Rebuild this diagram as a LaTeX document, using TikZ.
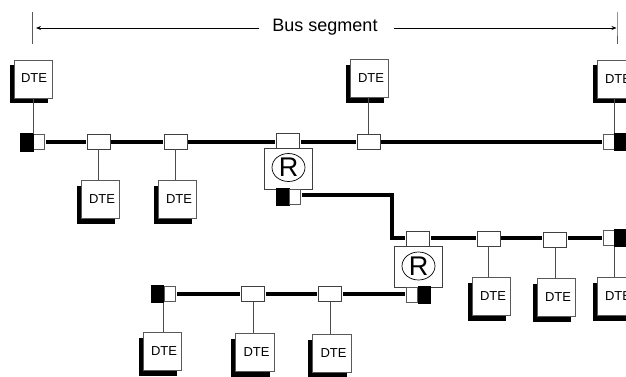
\documentclass[tikz,border=0pt]{standalone}
\usepackage{fontspec}
\setmainfont{Liberation Sans}
\usetikzlibrary{shadows,arrows.meta,shapes.geometric}
\tikzset{
  x=1pt,y=1pt,
  dtebox/.style={draw=black!65,line width=0.9pt,fill=white,minimum width=38.5pt,minimum height=38pt,inner sep=0pt,
     font=\fontsize{13}{13}\selectfont,execute at begin node=\hspace{3pt},general shadow={fill=black,shadow xshift=-4.5pt,shadow yshift=-5.5pt}},
  tapbox/.style={draw=black!75,line width=0.9pt,fill=white,minimum width=23pt,minimum height=15pt,inner sep=0pt},
  termw/.style={draw=black!65,line width=0.9pt,fill=white,minimum width=11.5pt,minimum height=15pt,inner sep=0pt},
  termb/.style={draw=black,fill=black,line width=0pt,minimum width=12.5pt,minimum height=17pt,inner sep=0pt},
  repbox/.style={draw=black!75,line width=0.9pt,fill=white,minimum width=48pt,minimum height=41pt,inner sep=0pt},
  rcircle/.style={draw=black,line width=0.7pt,ellipse,minimum width=33pt,minimum height=28pt,inner sep=0pt,font=\fontsize{27}{27}\selectfont},
  busline/.style={line width=4pt,black,shorten <=1pt,shorten >=1pt},
  drop/.style={line width=0.9pt,black!70},
  dim/.style={line width=0.8pt,black,-{Stealth[length=5pt,width=4pt]}},
  bar/.style={line width=0.9pt,black!65},
  lbl/.style={font=\fontsize{18}{18}\selectfont,inner sep=0pt}
}
\begin{document}
\begin{tikzpicture}
\clip (0,0) rectangle (626,-377);
\fill[white] (0,0) rectangle (626,-377);
% dimension
\node[lbl] (label) at (325,-27) {Bus segment};
\coordinate (bl) at (32.5,-28);
\coordinate (br) at (617,-28);
\draw[bar] (32.5,-12) -- (bl) -- (32.5,-44);
\draw[bar] (617,-12) -- (br) -- (617,-44);
\draw[dim,shorten <=13pt,shorten >=3.5pt] (label.west |- bl) -- (bl);
\draw[dim,shorten <=16pt,shorten >=0.5pt] (label.east |- br) -- (br);
% upper DTEs
\node[dtebox] (d1) at (33.5,-79) {\hspace{-2pt}\raisebox{1.5pt}{DTE}};
\node[dtebox] (d4) at (369.5,-78.5) {DTE};
\node[dtebox] (d5) at (616.5,-79) {DTE};
\node[dtebox] (d2) at (100.5,-199.5) {DTE};
\node[dtebox] (d3) at (177.5,-199.5) {DTE};
% top bus
\node[termw] (t1w) at (39,-141.5) {};
\node[termb] (t1b) at (27,-142.5) {};
\node[tapbox] (a1) at (98.5,-141.5) {};
\node[tapbox] (a2) at (175.5,-141.5) {};
\node[tapbox] (a3) at (288,-140.5) {};
\node[tapbox] (a4) at (368.5,-141.5) {};
\node[termw] (t2w) at (609,-141.5) {};
\node[termb] (t2b) at (621,-142) {};
\draw[busline] (t1w.east) -- (a1.west);
\draw[busline] (a1.east) -- (a2.west);
\draw[busline] (a2.east) -- (a3.west |- a2);
\draw[busline] (a3.east |- a2) -- (a4.west);
\draw[busline] (a4.east) -- (t2w.west);
\draw[drop] (d1.south -| t1b.north east) -- (t1b.north east);
\draw[drop] (a1.south) -- (a1.south |- d2.north);
\draw[drop] (a2.south) -- (a2.south |- d3.north);
\draw[drop] (d4.south -| a4.north) -- (a4.north);
\draw[drop] (d5.south -| t2b.north west) -- (t2b.north west);
% first repeater
\node[repbox] (r1) at (288.5,-168.5) {};
\node[rcircle] (c1) at (288.5,-167.5) {R};
\node[tapbox] at (288,-140.5) {};
\node[termb] (t3b) at (283,-196.5) {};
\node[termw] (t3w) at (295,-196.5) {};
% second bus
\node[tapbox] (b1) at (418,-238.5) {};
\node[tapbox] (b2) at (488.5,-238.5) {};
\node[tapbox] (b3) at (555,-239.5) {};
\node[termw] (t4w) at (609,-238) {};
\node[termb] (t4b) at (621,-238) {};
\node[dtebox] (d6) at (491.5,-296.5) {DTE};
\node[dtebox] (d7) at (556.5,-297.5) {DTE};
\node[dtebox] (d8) at (616.5,-296.5) {DTE};
\draw[line width=4pt,black,shorten <=1pt,shorten >=1pt,line join=miter] (t3w.east |- 0,-194.5) -| (392,-238) -- (b1.west |- 0,-238);
\draw[busline] (b1.east |- 0,-238) -- (b2.west |- 0,-238);
\draw[busline] (b2.east |- 0,-238) -- (b3.west |- 0,-238);
\draw[busline] (b3.east |- 0,-238) -- (t4w.west);
\draw[drop] (b2.south) -- (b2.south |- d6.north);
\draw[drop] (b3.south) -- (b3.south |- d7.north);
\draw[drop] (t4b.south west) -- (t4b.south west |- d8.north);
% second repeater
\node[repbox] (r2) at (418.5,-266.5) {};
\node[rcircle] (c2) at (418.5,-266) {R};
\node[tapbox] at (418,-238.5) {};
\node[termw] (t5w) at (412,-294.5) {};
\node[termb] (t5b) at (424.5,-294.5) {};
% third bus
\node[termb] (t6b) at (157.5,-294) {};
\node[termw] (t6w) at (170,-294) {};
\node[tapbox] (e1) at (253,-294) {};
\node[tapbox] (e2) at (330,-294) {};
\node[dtebox] (d9) at (162.5,-351.5) {DTE};
\node[dtebox] (d10) at (255,-352.5) {DTE};
\node[dtebox] (d11) at (332,-353) {DTE};
\draw[busline] (t6w.east) -- (e1.west);
\draw[busline] (e1.east) -- (e2.west);
\draw[busline] (e2.east) -- (t5w.west |- e2);
\draw[drop] (t6b.south east) -- (t6b.south east |- d9.north);
\draw[drop] (e1.south) -- (e1.south |- d10.north);
\draw[drop] (e2.south) -- (e2.south |- d11.north);
\end{tikzpicture}
\end{document}
